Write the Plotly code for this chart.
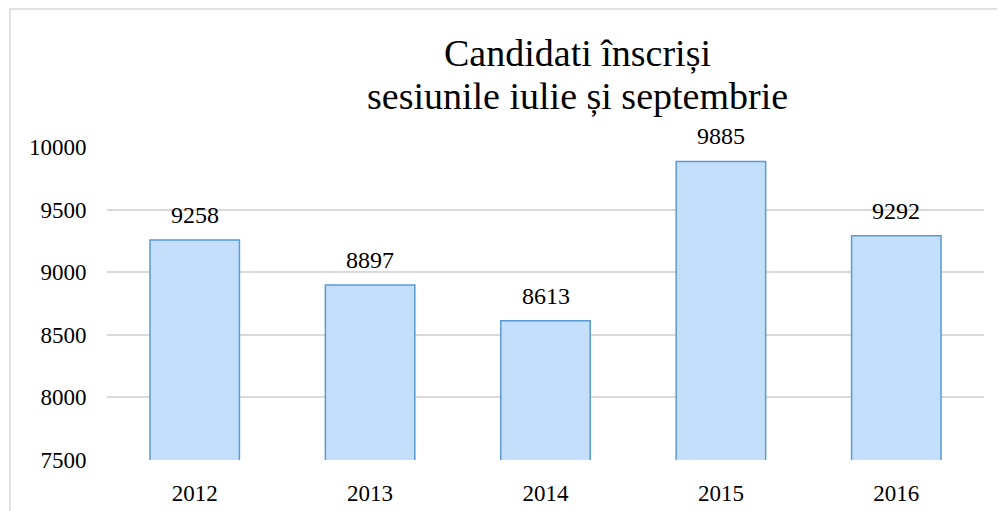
import plotly.graph_objects as go

years = ["2012", "2013", "2014", "2015", "2016"]
candidates = [9258, 8897, 8613, 9885, 9292]
y_ticks = [7500, 8000, 8500, 9000, 9500, 10000]
title_lines = ["Candidati înscriși", "sesiunile iulie și septembrie"]

FONT = "Liberation Serif, Times New Roman, Tinos, serif"

# page has an 8px body margin; layout is expressed in figure pixels
W, H = 1005, 511
L, R, T, B = 99, 29, 139, 59
PW, PH = W - L - R, H - T - B


def px_x(x):
    return (x - L) / PW


def px_y(y):
    return (H - B - y) / PH


fig = go.Figure()
fig.add_trace(go.Bar(
    x=years,
    y=candidates,
    marker=dict(color="#c3dffb", line=dict(color="#5b9bd5", width=1.5)),
    hoverinfo="x+y",
))

for i, v in enumerate(candidates):
    fig.add_annotation(
        x=i, y=v, text=str(v), showarrow=False,
        yanchor="bottom", yshift=10,
        font=dict(family=FONT, size=24, color="#000000"),
    )

for line, yc in zip(title_lines, [45, 88]):
    fig.add_annotation(
        xref="paper", yref="paper",
        x=px_x(569), y=px_y(yc), text=line, showarrow=False,
        xanchor="center", yanchor="middle",
        font=dict(family=FONT, size=38, color="#000000"),
    )

fig.update_layout(
    width=W, height=H,
    margin=dict(l=L, r=R, t=T, b=B),
    paper_bgcolor="white",
    plot_bgcolor="white",
    showlegend=False,
    bargap=0.49,
    font=dict(family=FONT, size=23, color="#000000"),
    xaxis=dict(
        type="category",
        range=[-0.5, len(years) - 0.5],
        showgrid=False,
        showline=False,
        automargin=False,
        ticks="outside", ticklen=12, tickcolor="rgba(0,0,0,0)",
        tickfont=dict(family=FONT, size=23, color="#000000"),
    ),
    yaxis=dict(
        range=[7500, 10000],
        tickvals=y_ticks,
        ticktext=[str(t) for t in y_ticks],
        showgrid=True, gridcolor="#d9d9d9", gridwidth=1.5,
        zeroline=False, showline=False,
        automargin=False,
        ticks="outside", ticklen=15, tickcolor="rgba(0,0,0,0)",
        tickfont=dict(family=FONT, size=23, color="#000000"),
    ),
    shapes=[dict(
        type="rect", xref="paper", yref="paper",
        x0=px_x(2), x1=px_x(1040),
        y0=px_y(560), y1=px_y(1),
        line=dict(color="#d9d9d9", width=1.5),
        fillcolor="rgba(0,0,0,0)", layer="below",
    )],
)

fig.write_html("out.html")
